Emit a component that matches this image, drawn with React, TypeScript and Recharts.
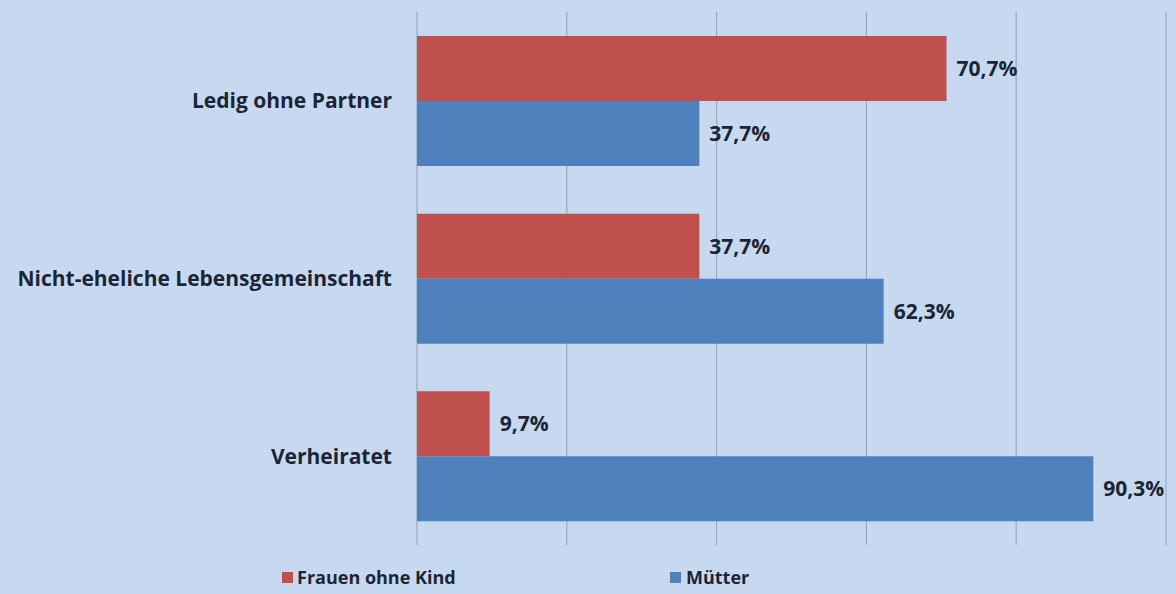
import React from "react";
import { BarChart, Bar, XAxis, YAxis, CartesianGrid, Legend, LabelList } from "recharts";

const categories = ["Ledig ohne Partner", "Nicht-eheliche Lebensgemeinschaft", "Verheiratet"];
const frauenOhneKind = [70.7, 37.7, 9.7];
const muetter = [37.7, 62.3, 90.3];
const xTicks = [0, 20, 40, 60, 80, 100];
const seriesNames = ["Frauen ohne Kind", "Mütter"];

const data = categories.map((c, i) => ({ name: c, frauen: frauenOhneKind[i], muetter: muetter[i] }));

const RED = "#c0504d";
const BLUE = "#4f81bd";
const TEXT = "#1c2536";
const FONT = "'Open Sans', Lato, sans-serif";

const fmt = (v: any) => `${Number(v).toFixed(1).replace(".", ",")}%`;

const LegendContent = () => (
  <div style={{ position: "relative", width: 1176, height: 24, fontFamily: FONT, fontWeight: 700, fontSize: 18, color: TEXT }}>
    <div style={{ position: "absolute", left: 282, top: 7, width: 11, height: 11, background: RED }} />
    <div style={{ position: "absolute", left: 297, top: 0, lineHeight: "24px" }}>{seriesNames[0]}</div>
    <div style={{ position: "absolute", left: 670, top: 7, width: 11, height: 11, background: BLUE }} />
    <div style={{ position: "absolute", left: 686, top: 0, lineHeight: "24px" }}>{seriesNames[1]}</div>
  </div>
);

const labelStyle = { fontFamily: FONT, fontWeight: 700, fontSize: 21 };

export default function App() {
  return (
    <div style={{ position: "absolute", left: 0, top: 0, width: 1176, height: 594, background: "#c7d9f0" }}>
      <BarChart
        width={1176}
        height={594}
        data={data}
        layout="vertical"
        margin={{ top: 12, right: 10, bottom: 25, left: 0 }}
        barCategoryGap={24}
        barGap={0}
      >
        <CartesianGrid horizontal={false} vertical={true} stroke="#9aa9bb" strokeWidth={1.2} />
        <XAxis type="number" domain={[0, 100]} ticks={xTicks} hide />
        <YAxis
          type="category"
          dataKey="name"
          width={417}
          axisLine={false}
          tickLine={false}
          tickSize={0}
          tickMargin={25}
          tick={{ fill: TEXT, fontFamily: FONT, fontWeight: 700, fontSize: 21 }}
        />
        <Legend
          verticalAlign="bottom"
          content={LegendContent}
          wrapperStyle={{ left: 0, top: 565, bottom: "auto", width: 1176, height: 24 }}
        />
        <Bar dataKey="frauen" name={seriesNames[0]} fill={RED} isAnimationActive={false}>
          <LabelList dataKey="frauen" position="right" offset={10} formatter={fmt} fill={TEXT} style={labelStyle} />
        </Bar>
        <Bar dataKey="muetter" name={seriesNames[1]} fill={BLUE} isAnimationActive={false}>
          <LabelList dataKey="muetter" position="right" offset={10} formatter={fmt} fill={TEXT} style={labelStyle} />
        </Bar>
      </BarChart>
    </div>
  );
}
